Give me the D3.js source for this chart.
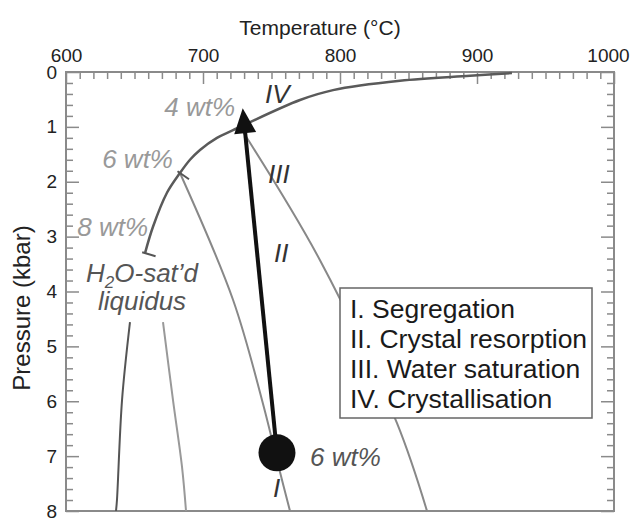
<!DOCTYPE html>
<html>
<head>
<meta charset="utf-8">
<script src="https://cdn.jsdelivr.net/npm/d3@7"></script>
<style>
  body { margin: 0; background: #fff; }
  text { font-family: "Liberation Sans", Arial, sans-serif; }
</style>
</head>
<body>
<script>
// chart size
var w = 630, h = 518;
var margin = {top: 72, right: 16, bottom: 7, left: 66};

// axis ticks
var tempTicks = [600, 700, 800, 900, 1000];
var pressTicks = [0, 1, 2, 3, 4, 5, 6, 7, 8];

// H2O-saturated liquidus, [temperature, pressure] from 8 wt% end up to the top
var satLiquidus = [
    [657.7, 3.30], [663.5, 2.82], [673.7, 2.20], [683.2, 1.84], [690.5, 1.60], [697.8, 1.42],
    [710.2, 1.20], [721.9, 1.06], [770.8, 0.51], [794.9, 0.33], [843.8, 0.16], [894.9, 0.07], [925.5, 0.02]
];

// grey liquidus lines below the saturation curve
var lineA = [[646.7, 4.56], [640.9, 5.98], [637.2, 7.80], [636.5, 8.0]];
var lineB = [[670.8, 4.56], [678.1, 5.98], [684.7, 7.20], [687.6, 8.0]];
var lineC = [[683.2, 1.84], [721.9, 4.15], [743.1, 5.98], [756.2, 7.29], [763.5, 8.0]];
var lineD = [[729.2, 1.09], [785.4, 3.43], [841.6, 6.40], [863.5, 8.0]];

// water content marks on the saturated liquidus
var wtMarks = [[657.7, 3.30], [683.2, 1.84]];

// magma path: start (circle) and end (arrow tip)
var pathStart = [754, 6.94];
var pathEnd = [729, 0.66];

// legend entries
var legendItems = ["I. Segregation", "II. Crystal resorption", "III. Water saturation", "IV. Crystallisation"];

var svg = d3.select("body")
    .append("svg")
    .attr("width", w)
    .attr("height", h);

var x = d3.scaleLinear()
    .domain([600, 1000])
    .range([margin.left, w - margin.right]);

var y = d3.scaleLinear()
    .domain([0, 8])
    .range([margin.top, h - margin.bottom]);

var frameColor = "#8a8a8a";

// minor ticks every 10 C and 0.2 kbar
var minorT = d3.range(600, 1001, 10).filter(function(d){ return d % 100 !== 0; });
var minorP = d3.range(0, 8.001, 0.2).filter(function(d){ return Math.abs(d - Math.round(d)) > 0.01; });

function styleAxis(g){
    g.select(".domain").remove();
    g.selectAll("line").attr("stroke", frameColor).attr("stroke-width", 1.5);
    g.selectAll("text").attr("fill", "#222").style("font-size", "19px");
}

// top axis
svg.append("g")
    .attr("transform", "translate(0," + margin.top + ")")
    .call(d3.axisTop(x).tickValues(minorT).tickSize(-7).tickFormat(""))
    .call(styleAxis);
svg.append("g")
    .attr("transform", "translate(0," + margin.top + ")")
    .call(d3.axisTop(x).tickValues(tempTicks).tickSize(-12).tickPadding(10).tickFormat(d3.format("d")))
    .call(styleAxis)
    .selectAll("text")
    .filter(function(d){ return d === 1000; })
    .attr("dx", -6);

// left axis
svg.append("g")
    .attr("transform", "translate(" + margin.left + ",0)")
    .call(d3.axisLeft(y).tickValues(minorP).tickSize(-7).tickFormat(""))
    .call(styleAxis);
svg.append("g")
    .attr("transform", "translate(" + margin.left + ",0)")
    .call(d3.axisLeft(y).tickValues(pressTicks).tickSize(-13).tickPadding(9).tickFormat(d3.format("d")))
    .call(styleAxis);

// right axis, ticks only
svg.append("g")
    .attr("transform", "translate(" + (w - margin.right) + ",0)")
    .call(d3.axisRight(y).tickValues(minorP).tickSize(-7).tickFormat(""))
    .call(styleAxis);
svg.append("g")
    .attr("transform", "translate(" + (w - margin.right) + ",0)")
    .call(d3.axisRight(y).tickValues(pressTicks).tickSize(-13).tickFormat(""))
    .call(styleAxis);

// frame
svg.append("rect")
    .attr("x", x(600))
    .attr("y", y(0))
    .attr("width", x(1000) - x(600))
    .attr("height", y(8) - y(0))
    .attr("fill", "none")
    .attr("stroke", frameColor)
    .attr("stroke-width", 2);

// axis titles
svg.append("text")
    .attr("x", 320)
    .attr("y", 35)
    .attr("text-anchor", "middle")
    .style("font-size", "21px")
    .attr("fill", "#222")
    .text("Temperature (°C)");

svg.append("text")
    .attr("transform", "translate(30,308) rotate(-90)")
    .attr("text-anchor", "middle")
    .style("font-size", "24px")
    .attr("fill", "#222")
    .text("Pressure (kbar)");

var line = d3.line()
    .x(function(d){ return x(d[0]); })
    .y(function(d){ return y(d[1]); })
    .curve(d3.curveCatmullRom);

// grey lines
[
    {data: lineA, color: "#555"},
    {data: lineB, color: "#999"},
    {data: lineC, color: "#888"},
    {data: lineD, color: "#888"}
].forEach(function(l){
    svg.append("path")
        .attr("d", line(l.data))
        .attr("fill", "none")
        .attr("stroke", l.color)
        .attr("stroke-width", 2);
});

// saturated liquidus
svg.append("path")
    .attr("d", line(satLiquidus))
    .attr("fill", "none")
    .attr("stroke", "#5a5a5a")
    .attr("stroke-width", 2.5);

// short marks across the curve at 8 and 6 wt%
svg.selectAll(".wtMark")
    .data(wtMarks)
    .enter()
    .append("line")
    .attr("class", "wtMark")
    .each(function(d){
        var i = satLiquidus.findIndex(function(p){ return p[0] === d[0]; });
        var a = satLiquidus[Math.max(i - 1, 0)], b = satLiquidus[Math.min(i + 1, satLiquidus.length - 1)];
        var dx = x(b[0]) - x(a[0]), dy = y(b[1]) - y(a[1]);
        var len = Math.sqrt(dx * dx + dy * dy);
        var nx = -dy / len, ny = dx / len;
        if (nx < 0) { nx = -nx; ny = -ny; }
        d3.select(this)
            .attr("x1", x(d[0]) - nx * 3).attr("y1", y(d[1]) - ny * 3)
            .attr("x2", x(d[0]) + nx * 11).attr("y2", y(d[1]) + ny * 11);
    })
    .attr("stroke", "#555")
    .attr("stroke-width", 2);

// legend box (covers the grey line behind it)
var legend = svg.append("g").attr("class", "legend");
legend.append("rect")
    .attr("x", 340)
    .attr("y", 288)
    .attr("width", 252)
    .attr("height", 130)
    .attr("fill", "#fff")
    .attr("stroke", "#666")
    .attr("stroke-width", 1.5);
legend.selectAll(".legendText")
    .data(legendItems)
    .enter()
    .append("text")
    .attr("class", "legendText")
    .attr("x", 350)
    .attr("y", function(d, i){ return 318 + i * 30; })
    .style("font-size", "26.5px")
    .attr("fill", "#1a1a1a")
    .text(function(d){ return d; });

// magma path arrow
var sx = x(pathStart[0]), sy = y(pathStart[1]);
var ex = x(pathEnd[0]), ey = y(pathEnd[1]);
var ang = Math.atan2(ey - sy, ex - sx);
var headLen = 25, headHalf = 11;
var bx = ex - Math.cos(ang) * headLen, by = ey - Math.sin(ang) * headLen;

svg.append("line")
    .attr("x1", sx).attr("y1", sy)
    .attr("x2", bx + Math.cos(ang) * 2).attr("y2", by + Math.sin(ang) * 2)
    .attr("stroke", "#111")
    .attr("stroke-width", 4);

svg.append("path")
    .attr("d", "M" + ex + "," + ey +
        "L" + (bx - Math.sin(ang) * headHalf) + "," + (by + Math.cos(ang) * headHalf) +
        "L" + (bx + Math.sin(ang) * headHalf) + "," + (by - Math.cos(ang) * headHalf) + "Z")
    .attr("fill", "#111");

svg.append("circle")
    .attr("cx", sx)
    .attr("cy", sy)
    .attr("r", 18.5)
    .attr("fill", "#111");

// italic labels
var labels = [
    {text: "4 wt%", t: 723.4, p: 0.80, anchor: "end", color: "#999"},
    {text: "6 wt%", t: 678.1, p: 1.75, anchor: "end", color: "#999"},
    {text: "8 wt%", t: 659.9, p: 2.99, anchor: "end", color: "#999"},
    {text: "liquidus", t: 655.5, p: 4.34, anchor: "middle", color: "#555"},
    {text: "IV", t: 745.3, p: 0.56, anchor: "start", color: "#333"},
    {text: "III", t: 747.4, p: 2.02, anchor: "start", color: "#333"},
    {text: "II", t: 751.8, p: 3.46, anchor: "start", color: "#333"},
    {text: "I", t: 751.1, p: 7.75, anchor: "start", color: "#333"},
    {text: "6 wt%", t: 778.1, p: 7.18, anchor: "start", color: "#555"}
];

svg.selectAll(".label")
    .data(labels)
    .enter()
    .append("text")
    .attr("class", "label")
    .attr("x", function(d){ return x(d.t); })
    .attr("y", function(d){ return y(d.p); })
    .attr("text-anchor", function(d){ return d.anchor; })
    .attr("fill", function(d){ return d.color; })
    .style("font-size", "26px")
    .style("font-style", "italic")
    .text(function(d){ return d.text; });

// H2O-sat'd with subscript
var h2o = svg.append("text")
    .attr("x", x(614.6))
    .attr("y", y(3.83))
    .attr("fill", "#555")
    .style("font-size", "26px")
    .style("font-style", "italic");
h2o.append("tspan").text("H");
h2o.append("tspan").attr("dy", 6).style("font-size", "17px").text("2");
h2o.append("tspan").attr("dy", -6).text("O-sat’d");
</script>
</body>
</html>
